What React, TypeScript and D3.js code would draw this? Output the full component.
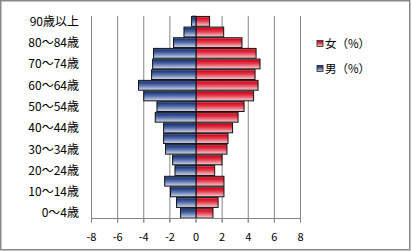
import React from "react";
import * as d3 from "d3";

const ages = [
  "0～4歳", "5～9歳", "10～14歳", "15～19歳", "20～24歳", "25～29歳", "30～34歳",
  "35～39歳", "40～44歳", "45～49歳", "50～54歳", "55～59歳", "60～64歳", "65～69歳",
  "70～74歳", "75～79歳", "80～84歳", "85～89歳", "90歳以上",
];
const female = [1.3, 1.69, 2.14, 2.14, 1.43, 1.99, 2.37, 2.45, 2.8, 3.22, 3.68, 4.41, 4.75, 4.52, 4.9, 4.6, 3.52, 2.12, 1.04];
const male = [-1.18, -1.49, -1.95, -2.4, -1.61, -1.79, -2.33, -2.48, -2.48, -3.12, -2.99, -4.0, -4.4, -3.4, -3.32, -3.25, -1.72, -0.92, -0.34];
const xTicks = [-8, -6, -4, -2, 0, 2, 4, 6, 8];
const seriesNames = ["女（%）", "男（%）"];

const W = 411, H = 251;
const left = 91.5, right = 300.5, top = 16, bottom = 218.5;
const font = "'Noto Sans CJK JP', 'DejaVu Sans', sans-serif";

export default function App() {
  const x = d3.scaleLinear().domain([-8, 8]).range([left, right]);
  const y = d3.scaleBand<string>().domain([...ages].reverse()).range([top, bottom]).paddingInner(0.08).paddingOuter(0.04);
  const yb = d3.scaleBand<string>().domain([...ages].reverse()).range([top, bottom]);
  const grid = "#868686";
  return (
    <svg width={W} height={H} style={{ display: "block", position: "absolute", left: 0, top: 0 }} fontFamily={font}>
      <defs>
        <linearGradient id="gf" x1="0" y1="0" x2="0" y2="1">
          <stop offset="0" stopColor="#f2a0a8" />
          <stop offset="0.15" stopColor="#d8081e" />
          <stop offset="0.45" stopColor="#e23a4c" />
          <stop offset="1" stopColor="#f9d0d6" />
        </linearGradient>
        <linearGradient id="gm" x1="0" y1="0" x2="0" y2="1">
          <stop offset="0" stopColor="#7d8fc0" />
          <stop offset="0.15" stopColor="#1f3a7a" />
          <stop offset="0.45" stopColor="#4d66a3" />
          <stop offset="1" stopColor="#d2dbef" />
        </linearGradient>
      </defs>
      <rect x={0.75} y={0.75} width={W - 2} height={H - 2} fill="#fff" stroke="#888" strokeWidth={1.5} />
      {xTicks.filter((t) => t !== 0).map((t) => (
        <line key={"g" + t} x1={x(t)} x2={x(t)} y1={top} y2={bottom + 4} stroke={grid} strokeWidth={1} />
      ))}
      {ages.map((a) => (
        <line key={"ct" + a} x1={x(0) - 4} x2={x(0)} y1={yb(a)!} y2={yb(a)!} stroke={grid} />
      ))}
      <line x1={x(0)} x2={x(0)} y1={top} y2={bottom + 4} stroke={grid} />
      {ages.map((a, i) => (
        <g key={"b" + a}>
          <rect x={x(0)} y={y(a)!} width={x(female[i]) - x(0)} height={y.bandwidth()} fill="url(#gf)" stroke="#111" strokeWidth={1} />
          <rect x={x(male[i])} y={y(a)!} width={x(0) - x(male[i])} height={y.bandwidth()} fill="url(#gm)" stroke="#111" strokeWidth={1} />
        </g>
      ))}
      <line x1={left} x2={right} y1={bottom} y2={bottom} stroke={grid} />
      {xTicks.map((t) => (
        <g key={"t" + t}>
          <line x1={x(t)} x2={x(t)} y1={bottom} y2={bottom + 4} stroke={grid} />
          <text x={x(t)} y={241} fontSize={11} textAnchor="middle" fill="#000">{t}</text>
        </g>
      ))}
      {ages.map((a, i) =>
        i % 2 === 0 ? (
          <text key={"l" + a} x={79} y={yb(a)! + yb.bandwidth() / 2 + 4.3} fontSize={12} textAnchor="end" fill="#000">{a}</text>
        ) : null
      )}
      {seriesNames.map((s, i) => (
        <g key={s}>
          <rect x={317} y={40.5 + i * 25} width={6} height={6} fill={i === 0 ? "url(#gf)" : "url(#gm)"} stroke="#222" strokeWidth={0.8} />
          <text x={325} y={47.8 + i * 25} fontSize={11.5} fill="#000">{s}</text>
        </g>
      ))}
    </svg>
  );
}
